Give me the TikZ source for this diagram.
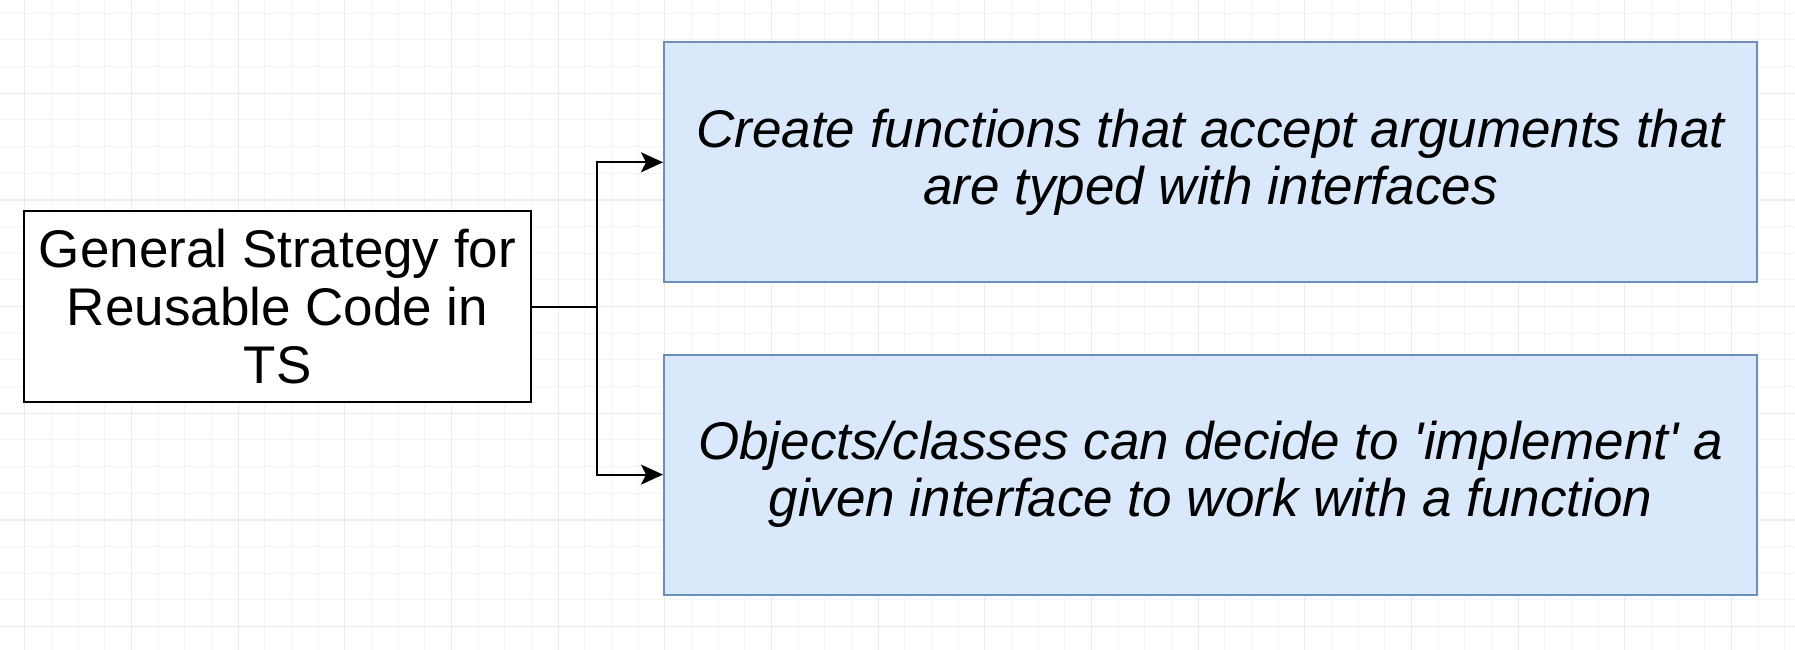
\documentclass[tikz,border=0pt]{standalone}
\usepackage{fontspec}
\setmainfont{Liberation Sans}
\usetikzlibrary{arrows.meta}
\definecolor{bluefill}{HTML}{DAE8FC}
\definecolor{blueborder}{HTML}{6C8EBF}
\definecolor{gridminor}{HTML}{F4F4F4}
\definecolor{gridmajor}{HTML}{EBEBEB}
\newcommand\straightq{\XeTeXglyph\XeTeXcharglyph"27\relax}
\begin{document}
\begin{tikzpicture}[x=1pt,y=-1pt,
  strat/.style={draw=black, line width=2.5pt, fill=white, align=center,
    minimum width=507pt, minimum height=191pt, inner sep=0pt,
    font=\fontsize{53}{58}\selectfont},
  idea/.style={draw=blueborder, fill=bluefill, line width=2pt,
    minimum width=1093pt, minimum height=240pt, inner sep=0pt, align=center,
    font=\fontsize{53}{57}\selectfont\itshape},
  conn/.style={line width=2pt, draw=black},
  arr/.style={conn, -{Stealth[length=22pt,width=20pt,inset=5pt]}},
  gmin/.style={draw=gridminor, line width=1pt},
  gmaj/.style={draw=gridmajor, line width=1.2pt}
]
\useasboundingbox (0,0) rectangle (1795,650);
\fill[white] (0,0) rectangle (1795,650);
% grid
\foreach \i in {0,...,67} {
  \pgfmathsetmacro\gx{-1.87+26.667*\i}
  \draw[gmin] (\gx,0) -- (\gx,650);
}
\foreach \i in {0,...,24} {
  \pgfmathsetmacro\gy{13.3+26.667*\i}
  \draw[gmin] (0,\gy) -- (1795,\gy);
}
\foreach \i in {0,...,16} {
  \pgfmathsetmacro\gx{24.8+106.667*\i}
  \draw[gmaj] (\gx,0) -- (\gx,650);
}
\foreach \i in {0,...,5} {
  \pgfmathsetmacro\gy{93.3+106.667*\i}
  \draw[gmaj] (0,\gy) -- (1795,\gy);
}
% nodes
\node[strat] (strat) at (277.5,306.5) {General Strategy for\\Reusable Code in\\TS};
\node[idea] (idea1) at (1210.5,162.3) {Create functions that accept arguments that\\are typed with interfaces};
\node[idea] (idea2) at (1210.5,474.6) {Objects/classes can decide to \straightq implement\straightq{} a\\given interface to work with a function};
% connectors
\coordinate (j) at (597,306.5);
\draw[conn] (strat.east) -- (j);
\draw[arr] (j) |- (idea1.west);
\draw[arr] (j) |- (idea2.west);
\end{tikzpicture}
\end{document}
